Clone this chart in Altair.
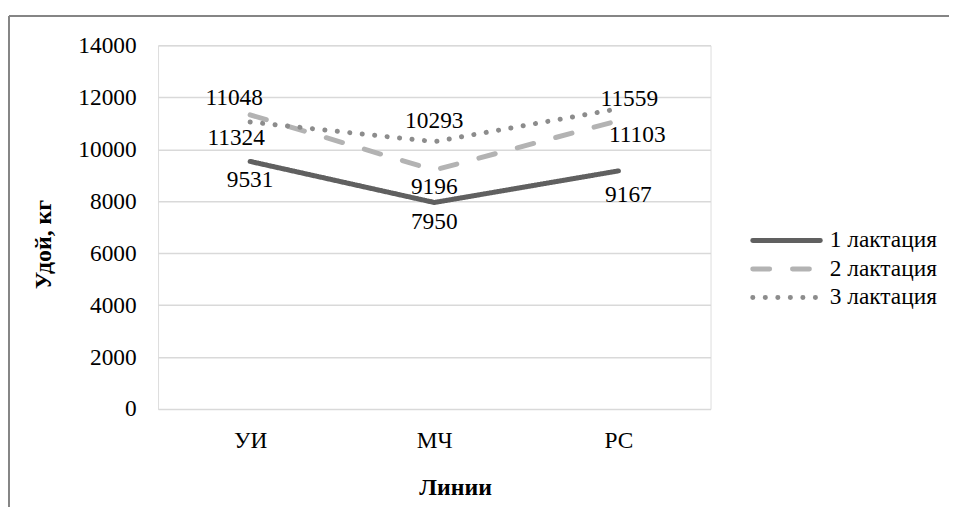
import altair as alt
import pandas as pd

categories = ["УИ", "МЧ", "РС"]
series_names = ["1 лактация", "2 лактация", "3 лактация"]
lact1 = [9531, 7950, 9167]
lact2 = [11324, 9196, 11103]
lact3 = [11048, 10293, 11559]
y_ticks = [0, 2000, 4000, 6000, 8000, 10000, 12000, 14000]

rows = []
for name, vals in zip(series_names, [lact1, lact2, lact3]):
    for c, v in zip(categories, vals):
        rows.append({"line": c, "series": name, "value": v})
df = pd.DataFrame(rows)
legend_df = pd.DataFrame({"series": series_names})

FONT = "Liberation Serif"
FS = 23.5
TFS = 24
colors = ["#606060", "#b3b3b3", "#8c8c8c"]
dashes = [[1, 0], [17, 23], [0.1, 12.5]]

# label placement (pixel offsets) per series, per category
label_dx = {series_names[0]: [0, 0, 10], series_names[1]: [-14, 0, 19], series_names[2]: [-16, 0, 11]}
label_dy = {series_names[0]: [19, 19.5, 24], series_names[1]: [23, 17, 15], series_names[2]: [-24, -21, -10]}

color = alt.Color("series:N", scale=alt.Scale(domain=series_names, range=colors), legend=None)
dash = alt.StrokeDash("series:N", scale=alt.Scale(domain=series_names, range=dashes), legend=None)

W, H = 556, 366
x = alt.X("line:N", sort=categories, scale=alt.Scale(domain=categories, paddingInner=1, paddingOuter=0.5),
          axis=alt.Axis(title="Линии", labelAngle=0, domain=False, ticks=False, labelPadding=20,
                        labelFontSize=FS, labelFont=FONT, labelColor="#000000",
                        titleFont=FONT, titleFontSize=TFS, titleFontWeight="bold", titleColor="#000000",
                        titleX=299, titleY=79, titleBaseline="middle", grid=False))
y = alt.Y("value:Q", scale=alt.Scale(domain=[0, 14000], nice=False),
          axis=alt.Axis(title="Удой, кг", values=y_ticks, format="d", domain=False, ticks=False,
                        labelPadding=22, labelFontSize=FS, labelFont=FONT, labelColor="#000000",
                        gridColor="#d9d9d9", gridWidth=1.5,
                        titleFont=FONT, titleFontSize=TFS, titleFontWeight="bold", titleColor="#000000",
                        titleAngle=-90, titleX=-115, titleY=200, titleBaseline="middle"))

base = alt.Chart(df)
lines = base.mark_line(strokeWidth=5, strokeCap="round", strokeJoin="round").encode(
    x=x, y=y, color=color, strokeDash=dash, order=alt.Order("series:N"))

label_layers = []
for s in series_names:
    for i, c in enumerate(categories):
        label_layers.append(
            base.transform_filter(
                (alt.datum.series == s) & (alt.datum.line == c)
            ).mark_text(font=FONT, fontSize=FS, color="#000000", baseline="middle",
                        dx=label_dx[s][i], dy=label_dy[s][i]).encode(
                x=alt.X("line:N", sort=categories), y="value:Q",
                text=alt.Text("value:Q", format="d"))
        )

# frame (top and left edges visible)
frame_top = alt.Chart(legend_df.head(1)).mark_rule(color="#858585", strokeWidth=2).encode(
    x=alt.value(-150), x2=alt.value(900), y=alt.value(-29.5))
frame_left = alt.Chart(legend_df.head(1)).mark_rule(color="#858585", strokeWidth=2).encode(
    x=alt.value(-150), y=alt.value(-29.5), y2=alt.value(600))

main = alt.layer(frame_top, frame_left, lines, *label_layers)

ly = alt.Y("series:N", scale=alt.Scale(domain=series_names, range=[182, 268], padding=0), axis=None)
leg_lines = alt.Chart(legend_df).mark_rule(strokeWidth=5, strokeCap="round").encode(
    x=alt.value(598.5), x2=alt.value(666.5), y=ly, color=color, strokeDash=dash)
leg_text = alt.Chart(legend_df).mark_text(font=FONT, fontSize=FS, align="left", baseline="middle",
                                          color="#000000").encode(
    x=alt.value(676), y=ly, text="series:N")

legend_layer = alt.layer(leg_lines, leg_text)

chart = alt.layer(main, legend_layer).resolve_scale(
    y="independent"
).properties(
    width=W, height=H,
    autosize=alt.AutoSizeParams(type="none"),
    padding={"left": 151, "top": 36, "right": 240, "bottom": 97},
).configure_view(stroke=None).configure(background="white", font=FONT)

chart.save("out.html", embed_options={"renderer": "svg", "actions": False})
